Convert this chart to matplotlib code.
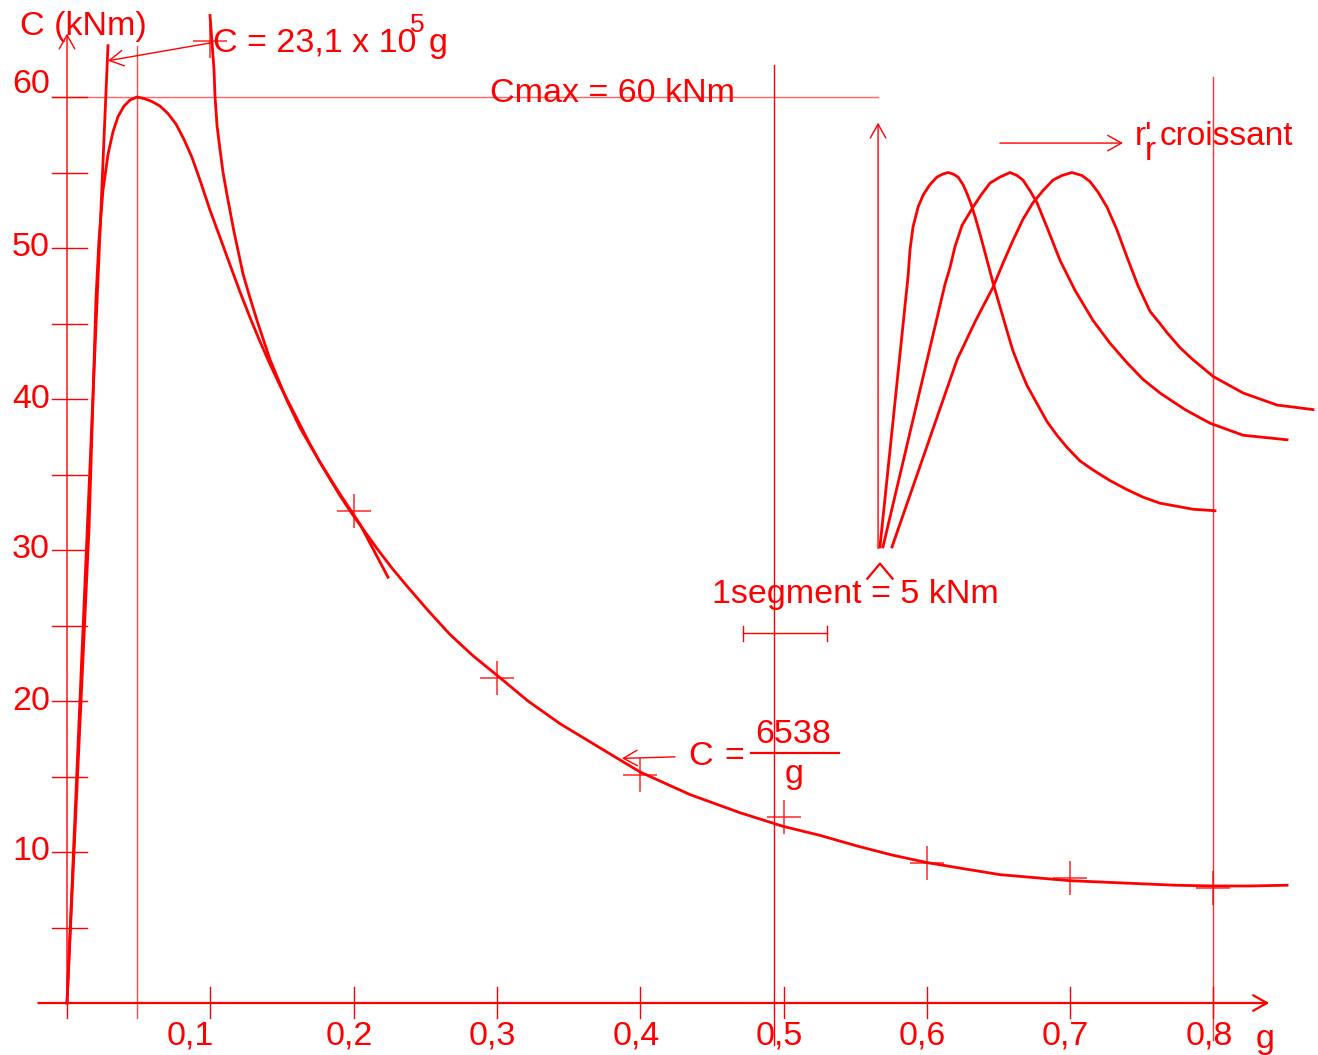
import matplotlib
matplotlib.use('Agg')
import matplotlib.pyplot as plt

RED = '#ff0000'
plt.rcParams['font.family'] = ['Liberation Sans', 'DejaVu Sans']

# measured torque curve C(g), kNm
g_curve = [0.0, 0.0154, 0.0181, 0.0202, 0.0223, 0.0251, 0.0286, 0.0321, 0.0356, 0.0398,
           0.0440, 0.0488, 0.0537, 0.0593, 0.0649, 0.0705, 0.0761, 0.0816, 0.0872, 0.0928,
           0.0998, 0.1068, 0.1137, 0.1207, 0.1277, 0.1347, 0.1417, 0.1486, 0.1556, 0.1626,
           0.1696, 0.1766, 0.1835, 0.1905, 0.1989, 0.2080, 0.2163, 0.2268, 0.2373, 0.2519,
           0.2673, 0.2833, 0.3001, 0.3217, 0.3440, 0.3719, 0.3999, 0.4348, 0.4697, 0.4997,
           0.5255, 0.5513, 0.5757, 0.6001, 0.6253, 0.6511, 0.6755, 0.6999, 0.7243, 0.7488,
           0.7732, 0.7997, 0.8255, 0.8514]
c_curve = [0.0, 31.5, 39.9, 46.6, 50.5, 53.8, 56.2, 57.7, 58.7, 59.4,
           59.8, 60.0, 59.9, 59.7, 59.4, 58.9, 58.2, 57.2, 56.0, 54.5,
           52.5, 50.7, 48.9, 47.1, 45.4, 43.8, 42.3, 40.9, 39.6, 38.3,
           37.0, 35.8, 34.7, 33.6, 32.4, 31.2, 30.1, 28.8, 27.6, 26.0,
           24.4, 23.0, 21.7, 20.0, 18.5, 16.9, 15.3, 13.8, 12.6, 11.7,
           11.1, 10.4, 9.8, 9.3, 8.9, 8.5, 8.3, 8.1, 8.0, 7.9,
           7.8, 7.75, 7.75, 7.8]

# hyperbola C = 6538/g (drawn branch)
g_hyp = [0.0998, 0.1012, 0.1026, 0.1033, 0.1047, 0.1068, 0.1089, 0.1117, 0.1165, 0.1228,
         0.1277, 0.1326, 0.1417, 0.1535, 0.1626, 0.1766, 0.1905, 0.2045, 0.2240]
c_hyp = [65.4, 63.6, 61.8, 60.0, 58.1, 56.5, 55.0, 53.5, 51.1, 48.3,
         46.7, 45.2, 42.6, 39.9, 38.1, 35.8, 33.7, 31.7, 28.2]

# tangent at origin C = 23,1e5 g
g_tan = [0.0, 0.0286]
c_tan = [0.0, 63.4]

# cross markers
g_pts = [0.1, 0.2, 0.3, 0.4, 0.5, 0.6, 0.7, 0.8]
c_pts = [63.7, 32.6, 21.5, 15.1, 12.3, 9.3, 8.3, 7.6]

# inset: three curves, r'r increasing
g_in1 = [0.5673, 0.5869, 0.5883, 0.5904, 0.5939, 0.5974, 0.6022, 0.6071, 0.6113, 0.6148,
         0.6183, 0.6218, 0.6253, 0.6281, 0.6309, 0.6336, 0.6378, 0.6420, 0.6462, 0.6511,
         0.6560, 0.6601, 0.6650, 0.6699, 0.6769, 0.6839, 0.6908, 0.6978, 0.7069, 0.7160,
         0.7278, 0.7397, 0.7509, 0.7627, 0.7858, 0.8011]
c_in1 = [30.2, 48.1, 49.9, 51.4, 52.7, 53.5, 54.2, 54.7, 54.9, 55.0,
         54.9, 54.7, 54.2, 53.6, 52.9, 52.1, 50.7, 49.2, 47.7, 46.1,
         44.5, 43.2, 42.0, 40.9, 39.7, 38.5, 37.6, 36.8, 35.9, 35.3,
         34.6, 34.0, 33.5, 33.1, 32.7, 32.6]
g_in2 = [0.5694, 0.6127, 0.6162, 0.6197, 0.6246, 0.6322, 0.6378, 0.6441, 0.6511, 0.6581,
         0.6630, 0.6671, 0.6720, 0.6769, 0.6846, 0.6929, 0.7034, 0.7160, 0.7278, 0.7397,
         0.7509, 0.7627, 0.7802, 0.7976, 0.8207, 0.8514]
c_in2 = [30.2, 47.6, 48.7, 50.1, 51.5, 52.7, 53.5, 54.3, 54.7, 55.0,
         54.8, 54.5, 53.8, 53.0, 51.2, 49.2, 47.2, 45.2, 43.7, 42.4,
         41.3, 40.4, 39.3, 38.4, 37.6, 37.3]
g_in3 = [0.5757, 0.6211, 0.6336, 0.6462, 0.6532, 0.6601, 0.6671, 0.6741, 0.6811, 0.6881,
         0.6943, 0.7013, 0.7083, 0.7139, 0.7195, 0.7258, 0.7327, 0.7397, 0.7474, 0.7558,
         0.7627, 0.7676, 0.7767, 0.7858, 0.7997, 0.8207, 0.8444, 0.8695]
c_in3 = [30.2, 42.6, 45.1, 47.4, 49.0, 50.5, 51.9, 53.0, 53.8, 54.5,
         54.8, 55.0, 54.8, 54.4, 53.7, 52.7, 51.2, 49.4, 47.5, 45.8,
         45.0, 44.4, 43.4, 42.6, 41.5, 40.4, 39.6, 39.3]

x_ticks = [0.1, 0.2, 0.3, 0.4, 0.5, 0.6, 0.7, 0.8]
x_labels = ['0,1', '0,2', '0,3', '0,4', '0,5', '0,6', '0,7', '0,8']
y_ticks = [5, 10, 15, 20, 25, 30, 35, 40, 45, 50, 55, 60]
y_major = [10, 20, 30, 40, 50, 60]
y_labels = ['10', '20', '30', '40', '50', '60']

fig = plt.figure(figsize=(13.18, 10.55), dpi=100)
ax = fig.add_axes([0, 0, 1, 1])
ax.set_xlim(-67 / 1433, 1251 / 1433)
ax.set_ylim(-52 / 15.1, 1003 / 15.1)
ax.axis('off')

thin = dict(color=RED, lw=1.0)
arrow = dict(arrowstyle='->,head_length=0.5,head_width=0.28', color=RED, lw=1.0,
             mutation_scale=20, shrinkA=0, shrinkB=0)
FS = 24.5

# axes
ax.annotate('', xy=(0, 64.2), xytext=(0, 0), arrowprops=arrow)
ax.annotate('', xy=(0.839, 0), xytext=(-0.020, 0), arrowprops=dict(arrow, lw=1.6))
for y in y_ticks:
    ax.plot([-0.0105, 0.014], [y, y], **thin)
for x in x_ticks:
    ax.plot([x, x], [1.06, -1.0], **thin)
ax.plot([0, 0], [0, -1.0], **thin)
for y, lab in zip(y_major, y_labels):
    ax.text(-0.012, y + (0.8 if y == 60 else 0), lab, color=RED, fontsize=FS,
            ha='right', va='center')
for x, lab in zip(x_ticks, x_labels):
    dx = -0.014 if x == 0.1 else -0.003
    ax.text(x + dx, -2.2, lab, color=RED, fontsize=FS, ha='center', va='center')
ax.text(0.836, -2.4, 'g', color=RED, fontsize=FS, ha='center', va='center')
ax.text(-0.033, 64.7, 'C (kNm)', color=RED, fontsize=FS, ha='left', va='center')

# construction lines
ax.plot([-0.0105, 0.566], [60, 60], color=RED, lw=1.0, alpha=0.6)
ax.plot([0.0488, 0.0488], [63.4, -1.0], color=RED, lw=1.0, alpha=0.7)
ax.plot([0.4934, 0.4934], [62.1, -2.8], **thin)
ax.plot([0.7997, 0.7997], [61.3, -2.45], color=RED, lw=1.0, alpha=0.8)

# curves
ax.plot(g_curve, c_curve, color=RED, lw=2.0, solid_joinstyle='round')
ax.plot(g_hyp, c_hyp, color=RED, lw=2.0, solid_joinstyle='round')
ax.plot(g_tan, c_tan, color=RED, lw=2.0)
ax.plot(g_pts, c_pts, ls='none', marker='+', ms=25, mew=1.1, color=RED, alpha=0.85)

# annotations
ax.annotate('', xy=(0.0286, 62.4), xytext=(0.1012, 63.6), arrowprops=arrow)
ax.text(0.1019, 63.0, 'C = 23,1 x 10', color=RED, fontsize=FS, ha='left', va='baseline')
ax.text(0.2394, 64.3, '5', color=RED, fontsize=19, ha='left', va='baseline')
ax.text(0.2525, 63.0, 'g', color=RED, fontsize=FS, ha='left', va='baseline')
ax.text(0.2952, 59.7, 'Cmax = 60 kNm', color=RED, fontsize=FS, ha='left', va='baseline')

ax.text(0.450, 26.5, '1segment = 5 kNm', color=RED, fontsize=FS, ha='left', va='baseline')
ax.plot([0.5585, 0.5673, 0.5761], [28.1, 29.1, 28.1], color=RED, lw=1.6)
ax.plot([0.4717, 0.5304], [24.5, 24.5], **thin)
ax.plot([0.4717, 0.4717], [25.0, 24.0], **thin)
ax.plot([0.5304, 0.5304], [25.0, 24.0], **thin)

ax.annotate('', xy=(0.3873, 16.2), xytext=(0.4243, 16.3), arrowprops=arrow)
ax.text(0.4334, 15.76, 'C', color=RED, fontsize=FS, ha='left', va='baseline')
ax.text(0.459, 15.76, '=', color=RED, fontsize=FS, ha='left', va='baseline')
ax.plot([0.4773, 0.5387], [16.56, 16.56], color=RED, lw=1.6)
ax.text(0.5066, 17.2, '6538', color=RED, fontsize=FS, ha='center', va='baseline')
ax.text(0.5073, 14.6, 'g', color=RED, fontsize=FS, ha='center', va='baseline')

# inset
ax.annotate('', xy=(0.566, 58.3), xytext=(0.566, 30.1), arrowprops=arrow)
ax.plot(g_in1, c_in1, color=RED, lw=2.0, solid_joinstyle='round')
ax.plot(g_in2, c_in2, color=RED, lw=2.0, solid_joinstyle='round')
ax.plot(g_in3, c_in3, color=RED, lw=2.0, solid_joinstyle='round')
ax.annotate('', xy=(0.7369, 56.95), xytext=(0.651, 56.95), arrowprops=arrow)
ax.text(0.7453, 56.8, "r'", color=RED, fontsize=24, ha='left', va='baseline')
ax.text(0.7522, 55.8, 'r', color=RED, fontsize=24, ha='left', va='baseline')
ax.text(0.7627, 56.8, 'croissant', color=RED, fontsize=24, ha='left', va='baseline')

fig.savefig('out.png', dpi=100)
